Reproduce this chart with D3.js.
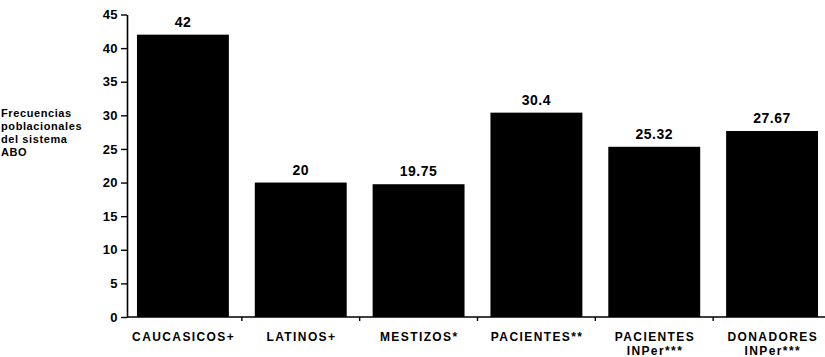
<!DOCTYPE html>
<html>
<head>
<meta charset="utf-8">
<script src="https://cdn.jsdelivr.net/npm/d3@7"></script>
<style>
  html, body { margin: 0; padding: 0; background: #fff; }
  svg { display: block; font-family: "Liberation Sans", Arial, sans-serif; font-weight: bold; }
</style>
</head>
<body>
<svg id="chart" width="825" height="357"></svg>
<script>
// Frecuencias poblacionales del sistema ABO por grupo
const categories = [
  ["CAUCASICOS+"],
  ["LATINOS+"],
  ["MESTIZOS*"],
  ["PACIENTES**"],
  ["PACIENTES", "INPer***"],
  ["DONADORES", "INPer***"]
];
const values = [42, 20, 19.75, 30.4, 25.32, 27.67];
const valueLabels = ["42", "20", "19.75", "30.4", "25.32", "27.67"];
const yTicks = [0, 5, 10, 15, 20, 25, 30, 35, 40, 45];
const yTitle = ["Frecuencias", "poblacionales", "del sistema", "ABO"];

const svg = d3.select("#chart");
const axisX = 127, x0 = 124, x1 = 831, yBottom = 317, yTop = 14.5;

const x = d3.scaleBand()
  .domain(d3.range(categories.length))
  .range([x0, x1])
  .paddingInner(0.22)
  .paddingOuter(0.11);

const y = d3.scaleLinear().domain([0, 45]).range([yBottom, yTop]);

// bars
svg.append("g").selectAll("rect")
  .data(values)
  .join("rect")
  .attr("x", (d, i) => x(i))
  .attr("y", d => y(d))
  .attr("width", x.bandwidth())
  .attr("height", d => y(0) - y(d))
  .attr("fill", "#000");

// value labels
svg.append("g").selectAll("text")
  .data(values)
  .join("text")
  .attr("x", (d, i) => x(i) + x.bandwidth() / 2)
  .attr("y", d => y(d) - 8)
  .attr("text-anchor", "middle")
  .attr("font-size", 14)
  .attr("letter-spacing", 0.5)
  .attr("fill", "#000")
  .text((d, i) => valueLabels[i]);

// y axis
const yAxis = d3.axisLeft(y).tickValues(yTicks).tickSize(6).tickPadding(3).tickSizeOuter(0);
const gy = svg.append("g").attr("transform", `translate(${axisX},0)`).call(yAxis);
gy.select(".domain").attr("stroke", "#000").attr("stroke-width", 1.6);
gy.selectAll(".tick line").attr("stroke", "#000").attr("stroke-width", 1.4);
gy.selectAll(".tick text")
  .attr("font-size", 13)
  .attr("font-weight", "bold")
  .attr("letter-spacing", 0.4)
  .attr("font-family", "Liberation Sans, Arial, sans-serif")
  .attr("fill", "#000");

// x axis baseline with ticks at band boundaries
const step = x.step();
const boundaries = d3.range(1, categories.length + 1).map(i => x(0) - x.paddingOuter() * step + i * step);
svg.append("line")
  .attr("x1", axisX).attr("x2", 825)
  .attr("y1", yBottom).attr("y2", yBottom)
  .attr("stroke", "#000").attr("stroke-width", 1.6);
svg.append("g").selectAll("line")
  .data(boundaries)
  .join("line")
  .attr("x1", d => d).attr("x2", d => d)
  .attr("y1", yBottom).attr("y2", yBottom + 4)
  .attr("stroke", "#000").attr("stroke-width", 1.4);

// category labels
const cat = svg.append("g").selectAll("text")
  .data(categories)
  .join("text")
  .attr("x", (d, i) => x(i) + x.bandwidth() / 2 + 0.7)
  .attr("y", 341)
  .attr("text-anchor", "middle")
  .attr("font-size", 12)
  .attr("letter-spacing", 1.4)
  .attr("fill", "#000");
cat.selectAll("tspan")
  .data(d => d)
  .join("tspan")
  .attr("x", function () { return d3.select(this.parentNode).attr("x"); })
  .attr("dy", (d, i) => i === 0 ? 0 : 13.5)
  .text(d => d);

// y axis title
svg.append("text")
  .attr("font-size", 11)
  .attr("letter-spacing", 0.6)
  .attr("fill", "#000")
  .selectAll("tspan")
  .data(yTitle)
  .join("tspan")
  .attr("x", 1)
  .attr("y", (d, i) => 117 + i * 13)
  .text(d => d);
</script>
</body>
</html>
